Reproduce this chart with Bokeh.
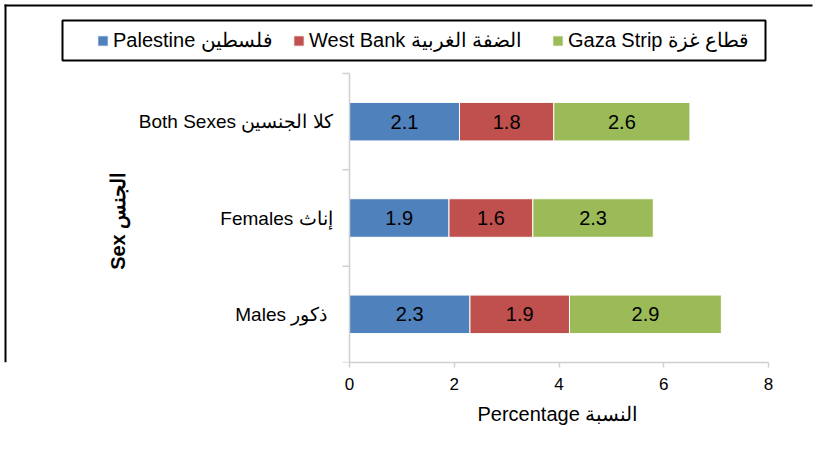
import numpy as np
from bokeh.plotting import figure
from bokeh.models import (ColumnDataSource, Range1d, FixedTicker, Legend, LegendItem,
                          Title)
from bokeh.core.properties import value
from bokeh.embed import file_html
from bokeh.resources import INLINE

# ---- data ----
sexes = ["Males  ذكور", "Females إناث", "Both Sexes كلا الجنسين"]
regions = ["Palestine فلسطين", "West Bank الضفة الغربية", "Gaza Strip قطاع غزة"]
palestine = [2.3, 1.9, 2.1]
west_bank = [1.9, 1.6, 1.8]
gaza_strip = [2.9, 2.3, 2.6]
x_ticks = [0, 2, 4, 6, 8]
x_min, x_max = 0, 8
x_title = "Percentage   النسبة"
y_title = "Sex  الجنس"
colors = ["#4F81BD", "#C0504D", "#9BBB59"]

FONT = "Liberation Sans"
AXIS_GREY = "#d0d0d0"

ys = list(range(len(sexes)))
y_lo, y_hi = ys[0] - 0.5, ys[-1] + 0.5
keys = ["pal", "wb", "gz"]
src = ColumnDataSource(dict(y=ys, pal=palestine, wb=west_bank, gz=gaza_strip))

# ---- layout (canvas px) ----
W, H = 817, 450
PLOT_L, PLOT_R, PLOT_T, PLOT_B = 349, 768, 73, 362   # plotting area
FRAME_B = PLOT_B                                      # frame covers canvas above x axis
kx = (PLOT_R - PLOT_L) / (x_max - x_min)
ky = (PLOT_B - PLOT_T) / (y_hi - y_lo)
xr = Range1d(x_min - PLOT_L / kx, x_max + (W - PLOT_R) / kx)
yr = Range1d(y_lo, y_hi + PLOT_T / ky)
def dx(px):  # canvas px -> data x
    return xr.start + px / kx
def dy(py):  # canvas px -> data y
    return yr.end - py / ky

p = figure(width=W, height=H, output_backend="svg", toolbar_location=None,
           x_range=xr, y_range=yr, y_axis_location=None,
           min_border_left=0, min_border_right=0, min_border_top=0,
           min_border_bottom=H - FRAME_B)
p.outline_line_color = None
p.xgrid.visible = False
p.ygrid.visible = False

# outer chart border (top and left)
p.quad(left=[dx(4)], right=[dx(812)], top=[dy(4)], bottom=[dy(6)],
       fill_color="black", line_color=None)
p.quad(left=[dx(4)], right=[dx(6)], top=[dy(4)], bottom=[dy(FRAME_B)],
       fill_color="black", line_color=None)

# legend box
p.quad(left=[dx(62)], right=[dx(765)], top=[dy(20)], bottom=[dy(60)],
       fill_color="white", line_color="#000000", line_width=2)

rs = p.hbar_stack(keys, y="y", height=0.4, color=colors, line_color="white",
                  line_width=1, source=src)

# data labels
vals = np.array([palestine, west_bank, gaza_strip])
cum = np.cumsum(vals, axis=0)
mids = cum - vals / 2
lab = ColumnDataSource(dict(
    x=mids.flatten().tolist(),
    y=ys * 3,
    t=[f"{v:.1f}" for v in vals.flatten()]))
p.text(x="x", y="y", text="t", source=lab, text_font=value(FONT),
       text_font_size="20px", text_align="center", text_baseline="middle",
       text_color="#000000")

# y axis (drawn at x = 0): line, boundary ticks, category labels, title
p.segment(x0=[x_min], y0=[y_lo], x1=[x_min], y1=[y_hi],
          line_color=AXIS_GREY, line_width=1.5)
p.ray(x=[x_min] * (len(ys) + 1), y=[y_lo + i for i in range(len(ys) + 1)],
      length=7, length_units="screen", angle=np.pi, line_color=AXIS_GREY,
      line_width=1.5)
p.text(x=[x_min] * len(ys), y=ys, text=sexes, x_offset=-17,
       text_font=value(FONT), text_font_size="19px", text_align="right",
       text_baseline="middle", text_color="#000000")
p.text(x=[x_min], y=[(y_lo + y_hi) / 2], text=[y_title], x_offset=-232,
       angle=np.pi / 2, text_font=value(FONT), text_font_size="20px",
       text_font_style="bold", text_align="center", text_baseline="middle",
       text_color="#000000")

# x axis
xa = p.xaxis[0]
xa.bounds = (x_min, x_max)
xa.ticker = FixedTicker(ticks=x_ticks)
xa.minor_tick_line_color = None
xa.major_tick_in = 0
xa.major_tick_out = 5
xa.axis_line_color = AXIS_GREY
xa.axis_line_width = 1.5
xa.major_tick_line_color = AXIS_GREY
xa.major_tick_line_width = 1.5
xa.major_label_text_font = FONT
xa.major_label_text_font_size = "17px"
xa.major_label_text_color = "#000000"
xa.major_label_standoff = 10

# x axis title, placed under the axis
p.add_layout(Title(text=x_title, align="left", offset=477, standoff=16,
                   text_font=FONT, text_font_size="20px",
                   text_font_style="normal", text_color="#000000"), "below")

# legends, one per entry, inside the (full-width) frame
glyph_x = [96, 292, 551]
for r, name, gx in zip(rs, regions, glyph_x):
    lg = Legend(items=[LegendItem(label=name, renderers=[r])],
                location=(gx, FRAME_B - 52), orientation="horizontal",
                padding=0, margin=0, spacing=0, glyph_width=13, glyph_height=13,
                label_standoff=4, label_height=13,
                label_text_font=FONT, label_text_font_size="20px",
                label_text_color="#000000",
                border_line_color=None, background_fill_alpha=0)
    p.add_layout(lg, "center")

open("out.html", "w").write(file_html(p, INLINE))
